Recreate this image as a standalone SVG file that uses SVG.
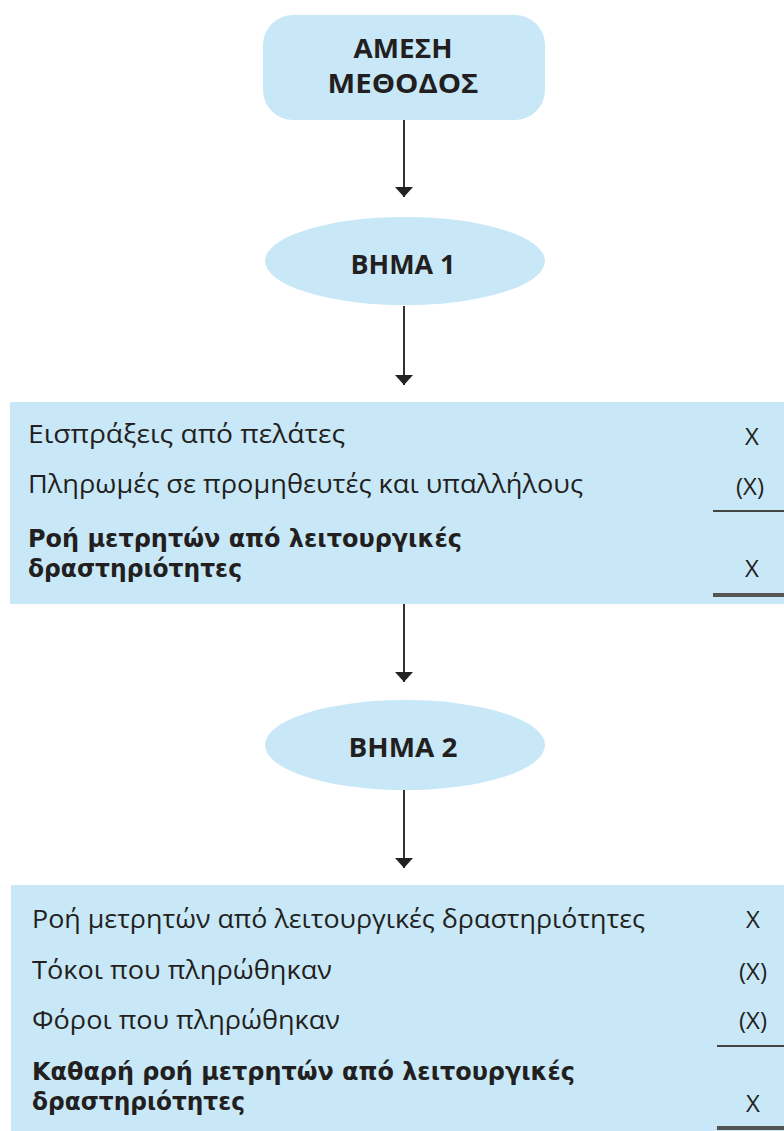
<svg xmlns="http://www.w3.org/2000/svg" width="784" height="1131" viewBox="0 0 784 1131">
<style>
.fill{fill:#C8E8F8;}
.t{font-family:"Open Sans","DejaVu Sans",sans-serif;font-size:25px;fill:#231F20;}
.b{font-family:"DejaVu Sans Condensed","DejaVu Sans",sans-serif;font-size:24px;font-weight:bold;fill:#231F20;}
.h{font-family:"Open Sans","DejaVu Sans",sans-serif;font-size:26px;font-weight:bold;fill:#231F20;text-anchor:middle;}
.n{font-family:"Open Sans","DejaVu Sans",sans-serif;font-size:24px;fill:#231F20;text-anchor:middle;}
.conn{stroke:#333;stroke-width:2;fill:none;}
.rule{stroke:#444;stroke-width:2;}
.rule2{stroke:#555;stroke-width:4;}
</style>
<defs>
<marker id="ah" markerUnits="userSpaceOnUse" markerWidth="20" markerHeight="20" refX="18" refY="9" orient="auto" viewBox="0 0 20 18">
<path d="M8,0 L18,9 L8,18 Z" fill="#222"/>
</marker>
</defs>
<g id="connectors">
<line class="conn" x1="404" y1="120" x2="404" y2="197" marker-end="url(#ah)"/>
<line class="conn" x1="404" y1="306" x2="404" y2="385" marker-end="url(#ah)"/>
<line class="conn" x1="404" y1="604" x2="404" y2="682" marker-end="url(#ah)"/>
<line class="conn" x1="404" y1="790" x2="404" y2="868" marker-end="url(#ah)"/>
</g>
<g id="start">
<rect class="fill" x="263" y="15" width="282" height="105" rx="30" ry="30"/>
<text class="h"><tspan x="403" y="58" textLength="99" lengthAdjust="spacingAndGlyphs">ΑΜΕΣΗ</tspan><tspan x="403" y="93" textLength="151" lengthAdjust="spacingAndGlyphs">ΜΕΘΟΔΟΣ</tspan></text>
</g>
<g id="step1">
<ellipse class="fill" cx="405" cy="261" rx="140" ry="44"/>
<text class="h" x="403" y="274" textLength="105" lengthAdjust="spacingAndGlyphs">ΒΗΜΑ 1</text>
</g>
<g id="box1">
<rect class="fill" x="10" y="402" width="774" height="202"/>
<text class="t" x="28" y="443" textLength="317" lengthAdjust="spacingAndGlyphs">Εισπράξεις από πελάτες</text>
<text class="n" x="752" y="445">X</text>
<text class="t" x="28" y="493" textLength="555" lengthAdjust="spacingAndGlyphs">Πληρωμές σε προμηθευτές και υπαλλήλους</text>
<text class="n" x="750" y="495">(X)</text>
<line class="rule" x1="713" y1="511" x2="784" y2="511"/>
<text class="b"><tspan x="28" y="547" textLength="434" lengthAdjust="spacingAndGlyphs">Ροή μετρητών από λειτουργικές</tspan><tspan x="28" y="577" textLength="214" lengthAdjust="spacingAndGlyphs">δραστηριότητες</tspan></text>
<text class="n" x="752" y="577">X</text>
<line class="rule2" x1="713" y1="595" x2="784" y2="595"/>
</g>
<g id="step2">
<ellipse class="fill" cx="405" cy="745" rx="140" ry="45"/>
<text class="h" x="403" y="757" textLength="109" lengthAdjust="spacingAndGlyphs">ΒΗΜΑ 2</text>
</g>
<g id="box2">
<rect class="fill" x="11" y="885" width="773" height="246"/>
<text class="t" x="32" y="928" textLength="613" lengthAdjust="spacingAndGlyphs">Ροή μετρητών από λειτουργικές δραστηριότητες</text>
<text class="n" x="753" y="928">X</text>
<text class="t" x="32" y="979" textLength="300" lengthAdjust="spacingAndGlyphs">Τόκοι που πληρώθηκαν</text>
<text class="n" x="753" y="980">(X)</text>
<text class="t" x="32" y="1029" textLength="308" lengthAdjust="spacingAndGlyphs">Φόροι που πληρώθηκαν</text>
<text class="n" x="753" y="1029">(X)</text>
<line class="rule" x1="717" y1="1046" x2="784" y2="1046"/>
<text class="b"><tspan x="32" y="1080" textLength="543" lengthAdjust="spacingAndGlyphs">Καθαρή ροή μετρητών από λειτουργικές</tspan><tspan x="32" y="1110" textLength="213" lengthAdjust="spacingAndGlyphs">δραστηριότητες</tspan></text>
<text class="n" x="753" y="1112">X</text>
<line class="rule2" x1="717" y1="1128" x2="784" y2="1128"/>
</g>
</svg>
